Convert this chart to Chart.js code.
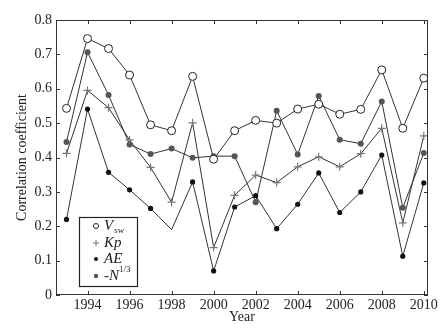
<!DOCTYPE html>
<html>
<head>
<meta charset="utf-8">
<script src="https://cdn.jsdelivr.net/npm/chart.js@4.4.0/dist/chart.umd.min.js"></script>
<style>
  html, body { margin: 0; padding: 0; background: #fff; }
</style>
</head>
<body>
<canvas id="grafico" width="446" height="330"></canvas>
<script>
const years = [1993, 1994, 1995, 1996, 1997, 1998, 1999, 2000, 2001, 2002, 2003, 2004, 2005, 2006, 2007, 2008, 2009, 2010];
const vsw  = [0.543, 0.746, 0.717, 0.640, 0.495, 0.478, 0.636, 0.395, 0.478, 0.508, 0.500, 0.541, 0.555, 0.526, 0.540, 0.655, 0.485, 0.631];
const kp   = [0.412, 0.595, 0.545, 0.451, 0.371, 0.270, 0.501, 0.138, 0.290, 0.349, 0.327, 0.373, 0.402, 0.373, 0.411, 0.485, 0.210, 0.463];
const ae   = [0.220, 0.541, 0.357, 0.306, 0.252, 0.190, 0.329, 0.070, 0.256, 0.289, 0.193, 0.264, 0.355, 0.240, 0.300, 0.407, 0.113, 0.326];
const nInv = [0.445, 0.706, 0.582, 0.438, 0.410, 0.426, 0.399, 0.404, 0.404, 0.270, 0.536, 0.409, 0.579, 0.452, 0.440, 0.563, 0.254, 0.413];
const xTickLabels = [1994, 1996, 1998, 2000, 2002, 2004, 2006, 2008, 2010];
const yTickLabels = [0, 0.1, 0.2, 0.3, 0.4, 0.5, 0.6, 0.7, 0.8];

const serif = "'Liberation Serif', 'DejaVu Serif', serif";
const toXY = vals => years.map((y, i) => ({ x: y, y: vals[i] }));

// marco y ticks hacia dentro, como en matlab
const marco = {
  id: "marco",
  afterDatasetsDraw(chart) {
    const { ctx, chartArea: a, scales: { x, y } } = chart;
    ctx.save();
    ctx.strokeStyle = "#333";
    ctx.lineWidth = 1;
    ctx.strokeRect(a.left + 0.5, a.top + 0.5, a.right - a.left - 1, a.bottom - a.top - 1);
    ctx.beginPath();
    xTickLabels.forEach(v => {
      const px = Math.round(x.getPixelForValue(v)) + 0.5;
      ctx.moveTo(px, a.bottom); ctx.lineTo(px, a.bottom - 4);
      ctx.moveTo(px, a.top); ctx.lineTo(px, a.top + 4);
    });
    yTickLabels.forEach(v => {
      const py = Math.round(y.getPixelForValue(v)) + 0.5;
      ctx.moveTo(a.left, py); ctx.lineTo(a.left + 4, py);
      ctx.moveTo(a.right, py); ctx.lineTo(a.right - 4, py);
    });
    ctx.stroke();
    ctx.restore();
  }
};

// leyenda dentro del area del grafico
const leyenda = {
  id: "leyenda",
  afterDraw(chart) {
    const ctx = chart.ctx;
    const a = chart.chartArea;
    const bx = a.left + 23, by = a.top + 197, bw = 58, bh = 69;
    ctx.save();
    ctx.fillStyle = "#fff";
    ctx.fillRect(bx, by, bw, bh);
    ctx.strokeStyle = "#222";
    ctx.lineWidth = 1.2;
    ctx.strokeRect(bx + 0.5, by + 0.5, bw, bh);

    const mx = bx + 17, tx = bx + 25;
    const rows = [by + 9, by + 26, by + 42, by + 59];

    // simbolos
    ctx.lineWidth = 1;
    ctx.strokeStyle = "#222"; ctx.fillStyle = "#fff";
    ctx.beginPath(); ctx.arc(mx, rows[0], 2.5, 0, Math.PI * 2); ctx.fill(); ctx.stroke();
    ctx.strokeStyle = "#777";
    ctx.beginPath();
    ctx.moveTo(mx - 3, rows[1]); ctx.lineTo(mx + 3, rows[1]);
    ctx.moveTo(mx, rows[1] - 3); ctx.lineTo(mx, rows[1] + 3);
    ctx.stroke();
    ctx.fillStyle = "#111";
    ctx.beginPath(); ctx.arc(mx, rows[2], 2, 0, Math.PI * 2); ctx.fill();
    ctx.fillStyle = "#555";
    ctx.beginPath(); ctx.arc(mx, rows[3], 2.2, 0, Math.PI * 2); ctx.fill();

    // textos
    ctx.fillStyle = "#222";
    ctx.textBaseline = "middle";
    ctx.textAlign = "left";
    const it = "italic 15px " + serif, sm = "9px " + serif;
    ctx.font = it;
    ctx.fillText("V", tx, rows[0]);
    let w = ctx.measureText("V").width;
    ctx.font = sm;
    ctx.fillText("sw", tx + w + 1, rows[0] + 5);
    ctx.font = it;
    ctx.fillText("Kp", tx, rows[1]);
    ctx.fillText("AE", tx, rows[2]);
    ctx.font = "15px " + serif;
    ctx.fillText("-", tx, rows[3]);
    w = ctx.measureText("-").width;
    ctx.font = it;
    ctx.fillText("N", tx + w, rows[3]);
    w += ctx.measureText("N").width;
    ctx.font = sm;
    ctx.fillText("1/3", tx + w, rows[3] - 6);
    ctx.restore();
  }
};

new Chart(document.getElementById("grafico"), {
  type: "line",
  data: {
    datasets: [
      {
        label: "Vsw",
        data: toXY(vsw),
        borderColor: "#333",
        borderWidth: 1,
        pointStyle: "circle",
        pointRadius: 4,
        pointBorderWidth: 1,
        pointBorderColor: "#222",
        pointBackgroundColor: "#fff"
      },
      {
        label: "Kp",
        data: toXY(kp),
        borderColor: "#333",
        borderWidth: 1,
        pointStyle: "cross",
        pointRadius: 4,
        pointBorderWidth: 1.2,
        pointBorderColor: "#777",
        pointBackgroundColor: "#777"
      },
      {
        label: "AE",
        data: toXY(ae),
        borderColor: "#333",
        borderWidth: 1,
        pointStyle: "circle",
        pointRadius: ae.map((v, i) => years[i] === 1998 ? 0 : 2.6),
        pointBorderWidth: 0,
        pointBackgroundColor: "#111"
      },
      {
        label: "-N1/3",
        data: toXY(nInv),
        borderColor: "#333",
        borderWidth: 1,
        pointStyle: "circle",
        pointRadius: 3,
        pointBorderWidth: 0,
        pointBackgroundColor: "#555"
      }
    ]
  },
  options: {
    responsive: false,
    animation: false,
    devicePixelRatio: 1,
    layout: { padding: { left: 0, right: 18, top: 20, bottom: 0 } },
    plugins: {
      legend: { display: false },
      tooltip: { enabled: false }
    },
    scales: {
      x: {
        type: "linear",
        min: 1992.5,
        max: 2010.2,
        grid: { display: false, drawTicks: false },
        border: { display: false },
        afterBuildTicks: s => { s.ticks = xTickLabels.map(v => ({ value: v })); },
        afterFit: s => { s.height = 35; s.paddingLeft = 0; s.paddingRight = 0; },
        ticks: {
          color: "#222",
          padding: 2,
          maxRotation: 0,
          autoSkip: false,
          font: { family: serif, size: 14 },
          callback: v => String(v)
        },
        title: {
          display: true,
          text: "Year",
          color: "#222",
          font: { family: serif, size: 14 },
          padding: { top: 0, bottom: 4 }
        }
      },
      y: {
        min: 0,
        max: 0.8,
        grid: { display: false, drawTicks: false },
        border: { display: false },
        afterBuildTicks: s => { s.ticks = yTickLabels.map(v => ({ value: v })); },
        afterFit: s => { s.width = 56; s.paddingTop = 0; s.paddingBottom = 0; },
        ticks: {
          color: "#222",
          padding: 4,
          font: { family: serif, size: 14 },
          callback: v => v === 0 ? "0" : v.toFixed(1)
        },
        title: {
          display: true,
          text: "Correlation coefficient",
          color: "#222",
          font: { family: serif, size: 14 },
          padding: { top: 14, bottom: 0 }
        }
      }
    }
  },
  plugins: [marco, leyenda]
});
</script>
</body>
</html>
